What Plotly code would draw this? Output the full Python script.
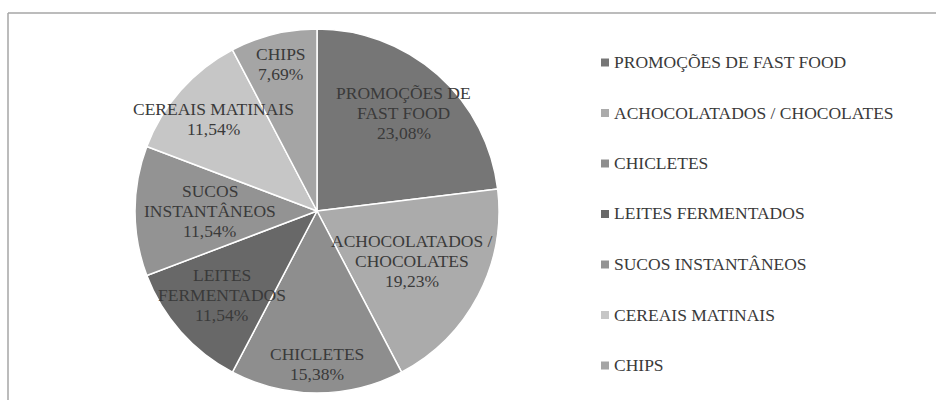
import math
import plotly.graph_objects as go

# ---- data ----
categories = [
    "PROMOÇÕES DE FAST FOOD",
    "ACHOCOLATADOS / CHOCOLATES",
    "CHICLETES",
    "LEITES FERMENTADOS",
    "SUCOS INSTANTÂNEOS",
    "CEREAIS MATINAIS",
    "CHIPS",
]
values = [23.08, 19.23, 15.38, 11.54, 11.54, 11.54, 7.69]
slice_label_lines = [
    ["PROMOÇÕES DE", "FAST FOOD"],
    ["ACHOCOLATADOS /", "CHOCOLATES"],
    ["CHICLETES"],
    ["LEITES", "FERMENTADOS"],
    ["SUCOS", "INSTANTÂNEOS"],
    ["CEREAIS MATINAIS"],
    ["CHIPS"],
]
colors = ["#767676", "#ababab", "#8e8e8e", "#686868", "#939393", "#c6c6c6", "#a5a5a5"]

# ---- layout constants ----
W, H = 936, 400
CX, CY, R = 317, 211, 182
label_radius = [0.72, 0.59, 0.84, 0.70, 0.59, 0.76, 0.83]
FONT = "Liberation Serif, Times New Roman, serif"
FSIZE = 17.5
TXT = "#3a3a3a"
LINE_H = 20

fig = go.Figure(go.Pie(
    labels=categories,
    values=values,
    sort=False,
    direction="clockwise",
    rotation=0,
    marker=dict(colors=colors, line=dict(color="white", width=1.5)),
    textinfo="none",
    hoverinfo="label+percent",
    showlegend=False,
    domain=dict(x=[(CX - R) / W, (CX + R) / W], y=[1 - (CY + R) / H, 1 - (CY - R) / H]),
))

annotations = []
shapes = []

# slice labels positioned at each slice's mid-angle
total = sum(values)
cum = 0.0
for i, v in enumerate(values):
    mid = (cum + v / 2) / total * 2 * math.pi
    cum += v
    r = label_radius[i] * R
    px = CX + r * math.sin(mid)
    py = CY - r * math.cos(mid)
    pct = f"{v / total * 100:.2f}".replace(".", ",") + "%"
    lines = slice_label_lines[i] + [pct]
    n = len(lines)
    for j, line in enumerate(lines):
        ly = py + (j - (n - 1) / 2) * LINE_H
        annotations.append(dict(
            x=px / W, y=1 - ly / H, xref="paper", yref="paper",
            text=line, showarrow=False, xanchor="center", yanchor="middle",
            font=dict(family=FONT, size=FSIZE, color=TXT),
        ))

# manual legend
LEG_Y0, LEG_DY = 62, 50.5
for i, (cat, col) in enumerate(zip(categories, colors)):
    y = LEG_Y0 + i * LEG_DY
    shapes.append(dict(
        type="rect", xref="paper", yref="paper",
        x0=601 / W, x1=609 / W, y0=1 - (y + 4.5) / H, y1=1 - (y - 3.5) / H,
        fillcolor=col, line=dict(width=0),
    ))
    annotations.append(dict(
        x=612 / W, y=1 - y / H, xref="paper", yref="paper",
        text=cat, showarrow=False, xanchor="left", yanchor="middle",
        font=dict(family=FONT, size=FSIZE, color=TXT),
    ))

# chart border (top and left visible)
shapes.append(dict(type="line", xref="paper", yref="paper",
                   x0=8 / W, x1=1.0, y0=1 - 13 / H, y1=1 - 13 / H,
                   line=dict(color="#a6a6a6", width=1.5)))
shapes.append(dict(type="line", xref="paper", yref="paper",
                   x0=8 / W, x1=8 / W, y0=1 - 13 / H, y1=0,
                   line=dict(color="#a6a6a6", width=1.5)))

fig.update_layout(
    width=W, height=H,
    margin=dict(l=0, r=0, t=0, b=0),
    paper_bgcolor="white",
    plot_bgcolor="white",
    annotations=annotations,
    shapes=shapes,
)

fig.write_html("out.html")
